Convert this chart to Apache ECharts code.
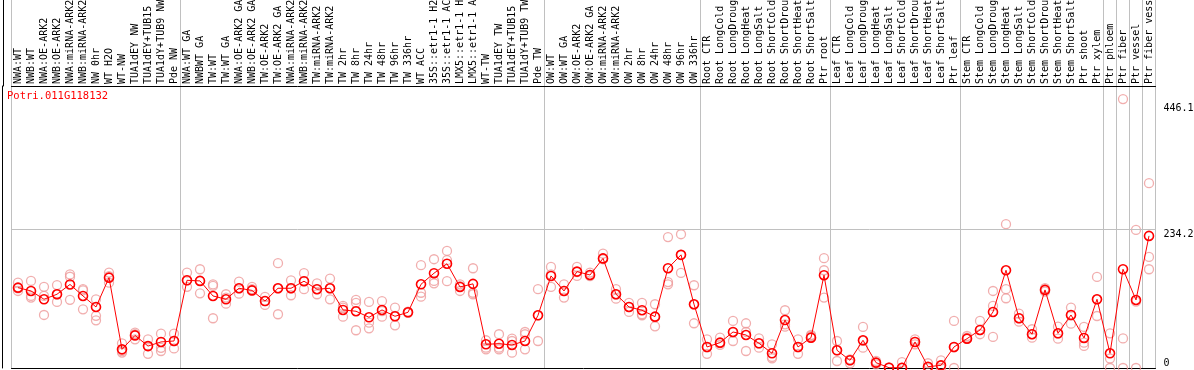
<!DOCTYPE html>
<html><head><meta charset="utf-8">
<script src="https://cdn.jsdelivr.net/npm/echarts@6/dist/echarts.min.js"></script>
<style>html,body{margin:0;padding:0;background:#fff}#c{width:1194px;height:370px}</style>
</head><body><div id="c"></div>
<script>
const categories = [
 'NWA:WT','NWB:WT','NWA:OE-ARK2','NWB:OE-ARK2','NWA:miRNA-ARK2','NWB:miRNA-ARK2','NW 0hr','WT H2O','WT-NW','TUA1dEY NW','TUA1dEY+TUB15 NW','TUA1dY+TUB9 NW','Pde NW',
 'NWA:WT GA','NWBWT GA','TW:WT','TW:WT GA','NWA:OE-ARK2 GA','NWB:OE-ARK2 GA','TW:OE-ARK2','TW:OE-ARK2 GA','NWA:miRNA-ARK2 GA','NWB:miRNA-ARK2 GA','TW:miRNA-ARK2','TW:miRNA-ARK2 GA','TW 2hr','TW 8hr','TW 24hr','TW 48hr','TW 96hr','TW 336hr','WT ACC','35S::etr1-1 H2O','35S::etr1-1 ACC','LMX5::etr1-1 H2O','LMX5::etr1-1 ACC','WT-TW','TUA1dEY TW','TUA1dEY+TUB15 TW','TUA1dY+TUB9 TW','Pde TW',
 'OW:WT','OW:WT GA','OW:OE-ARK2','OW:OE-ARK2 GA','OW:miRNA-ARK2','OW:miRNA-ARK2 GA','OW 2hr','OW 8hr','OW 24hr','OW 48hr','OW 96hr','OW 336hr',
 'Root CTR','Root LongCold','Root LongDrought','Root LongHeat','Root LongSalt','Root ShortCold','Root ShortDrought','Root ShortHeat','Root ShortSalt','Ptr root',
 'Leaf CTR','Leaf LongCold','Leaf LongDrought','Leaf LongHeat','Leaf LongSalt','Leaf ShortCold','Leaf ShortDrought','Leaf ShortHeat','Leaf ShortSalt','Ptr leaf',
 'Stem CTR','Stem LongCold','Stem LongDrought','Stem LongHeat','Stem LongSalt','Stem ShortCold','Stem ShortDrought','Stem ShortHeat','Stem ShortSalt','Ptr shoot',
 'Ptr xylem','Ptr phloem','Ptr fiber','Ptr vessel','Ptr fiber vessel'
];
const meanValues = [
 135.6,130,116,124.5,141,121.6,103,152.5,31.5,55,37,44,45.6,
 148,147,121.6,116,134.6,131,113,134.6,134.6,146.5,133,134.6,98,95.8,85.6,98,87.3,94,141.3,160,176,136.8,142,40,41,38.9,45.6,89,
 155.4,130,162.7,157,185,124.5,103,97.5,86.7,168.4,191,107.6,
 35.5,42.8,60.8,55.7,41.7,24.8,81,35.5,51.2,156.6,
 29.9,13,46.8,9,0.5,0.5,44,2.2,4.5,35.5,
 49.5,64.2,94.6,165,84,57,131.8,58.6,89.5,50.7,
 116,24.8,166.7,114.9,223
];
const rep1 = [
 144,147,137,140,158,133,116,161,41.7,59.6,48.4,58,58,
 161,166.7,141,124.5,145.8,137,120,177,148,160,143,151,104.7,115,111.5,113,102,94,173.5,183.6,197.6,141.3,168.4,46.8,57,49.5,60.8,133,
 170.6,141.3,170.6,161,193,133,110,110,107.6,221,225.8,139.7,
 48.4,51.2,79.4,75.5,50,40,97.5,48.4,55.7,185.3,
 45.6,14.6,69.3,12,1,10,48.4,8,13,79.4,
 54,79.4,130,242.7,91.7,65.4,134.6,69.8,102,69.3,
 153.7,58.6,454,233,312
];
const rep2 = [
 130,121.6,121.6,111.5,154,99,88,144,26,48.4,24,28.7,33,
 137,126,84,108.6,125.5,131,106.4,90.7,122.8,133,124.5,116,86.7,63.7,67,86.7,72,93,127,147,182,130,127,34.3,31.6,25.8,31.6,45.6,
 136.8,118.8,155.4,155,183.6,117,94.6,89,70.4,145,160.5,75.5,
 24,38.9,45.6,60.8,34.3,16.4,69.8,24,54,165,
 11.8,8,34.3,6,0,0,40,0,0,0,
 51.2,57,104.7,133,78.2,51.2,128.9,49.5,74.8,42.8,
 87.8,0,50,0,187.5
];
const rep3 = [
 134.6,118.8,89.5,124.5,115,131,80.5,155,28.7,57,37,34,45.6,
 148,147,138.5,118.8,134.6,133,113,134.6,134.6,146.5,133,134.6,102,110,76.5,96,88,95,120.4,143,146.5,138,124.5,31.6,34.3,45.6,57,89,
 158,130,162,157,185,124,103,90.7,86,141.3,191,107,
 35,42,60,28.7,41,18.6,73.8,35,51,118.8,
 30,13,46,9,0.5,0,44,2,4.5,35,
 49,64,52.4,117.7,84,57,132,58,89,37.2,
 116,16,0,112,166.7
];
const yTickLabels = [0, 234.2, 446.1];
const groupStarts = [0, 13, 41, 53, 63, 73, 84, 85, 86, 87];
const geneTitle = 'Potri.011G118132';

const FONT = 'DejaVu Sans Mono';
const Y_MAX = 476;
const sepFn = function (idx) { return groupStarts.indexOf(idx) >= 0; };
const repStyle = {color: 'rgba(255,255,255,0)', borderColor: '#ee9a9a', borderWidth: 1.3};

const chart = echarts.init(document.getElementById('c'), null, {renderer: 'canvas'});
const repSeries = [rep1, rep2, rep3].map(function (r, k) {
  const s = {
    type: 'scatter', xAxisIndex: 0, yAxisIndex: 0, silent: true, z: 2,
    symbol: 'circle', symbolSize: 9, itemStyle: repStyle,
    data: r.map(function (v, i) { return [i, v]; }).filter(function (d) { return d[1] != null; })
  };
  if (k === 0) {
    s.markLine = {silent: true, symbol: 'none', label: {show: false},
      lineStyle: {color: '#c0c0c0', type: 'solid', width: 1}, data: [{yAxis: yTickLabels[1]}]};
  }
  return s;
});

chart.setOption({
  animation: false,
  backgroundColor: '#fff',
  title: {text: geneTitle, left: 7, top: 91, padding: 0,
    textStyle: {color: '#ff0000', fontFamily: FONT, fontSize: 10.5, fontWeight: 'normal'}},
  grid: [
    {left: 11.5, right: 38.5, top: 86, bottom: 2, containLabel: false, outerBoundsMode: 'none'},
    {left: 11.5, right: 38.5, top: 0, height: 86, containLabel: false, outerBoundsMode: 'none'}
  ],
  xAxis: [
    {gridIndex: 0, type: 'category', position: 'top', data: categories, boundaryGap: true,
      axisLine: {show: true, onZero: false, lineStyle: {color: '#000', width: 1}}, axisTick: {show: false},
      axisLabel: {show: true, interval: 0, rotate: -90, margin: 2, color: '#000', fontFamily: FONT, fontSize: 10},
      splitLine: {show: true, interval: sepFn, lineStyle: {color: '#c0c0c0', width: 1}}},
    {gridIndex: 0, type: 'category', position: 'bottom', data: categories, boundaryGap: true,
      axisLine: {show: true, onZero: false, lineStyle: {color: '#000', width: 1}}, axisTick: {show: false},
      axisLabel: {show: false}, splitLine: {show: false}},
    {gridIndex: 1, type: 'category', position: 'bottom', data: categories, boundaryGap: true,
      axisLine: {show: false}, axisTick: {show: false}, axisLabel: {show: false},
      splitLine: {show: true, interval: sepFn, lineStyle: {color: '#c0c0c0', width: 1}}}
  ],
  yAxis: [
    {gridIndex: 0, type: 'value', min: 0, max: Y_MAX, position: 'left', offset: 9.5,
      axisLine: {show: true, lineStyle: {color: '#000', width: 1}}, axisTick: {show: false},
      axisLabel: {show: false}, splitLine: {show: false}},
    {gridIndex: 0, type: 'value', min: 0, max: Y_MAX, position: 'right',
      axisLine: {show: false}, axisTick: {show: false}, splitLine: {show: false},
      axisLabel: {show: true, customValues: yTickLabels.slice(1), verticalAlign: 'top', margin: 8,
        color: '#000', fontFamily: FONT, fontSize: 10, formatter: function (v) { return String(v); }}},
    {gridIndex: 0, type: 'value', min: 0, max: Y_MAX, position: 'right',
      axisLine: {show: false}, axisTick: {show: false}, splitLine: {show: false},
      axisLabel: {show: true, customValues: yTickLabels.slice(0, 1), verticalAlign: 'bottom', margin: 8,
        color: '#000', fontFamily: FONT, fontSize: 10, formatter: function (v) { return String(v); }}},
    {gridIndex: 1, type: 'value', min: 0, max: 1, position: 'left', offset: 8.5,
      axisLine: {show: true, lineStyle: {color: '#000', width: 1}}, axisTick: {show: false},
      axisLabel: {show: false}, splitLine: {show: false}}
  ],
  series: repSeries.concat([
    {type: 'line', xAxisIndex: 0, yAxisIndex: 0, data: meanValues, z: 3, silent: true,
      symbol: 'circle', symbolSize: 9, showAllSymbol: true,
      lineStyle: {color: '#ff0000', width: 1},
      itemStyle: {color: 'rgba(255,255,255,0)', borderColor: '#ff0000', borderWidth: 1.6}}
  ])
});
</script>
</body></html>
